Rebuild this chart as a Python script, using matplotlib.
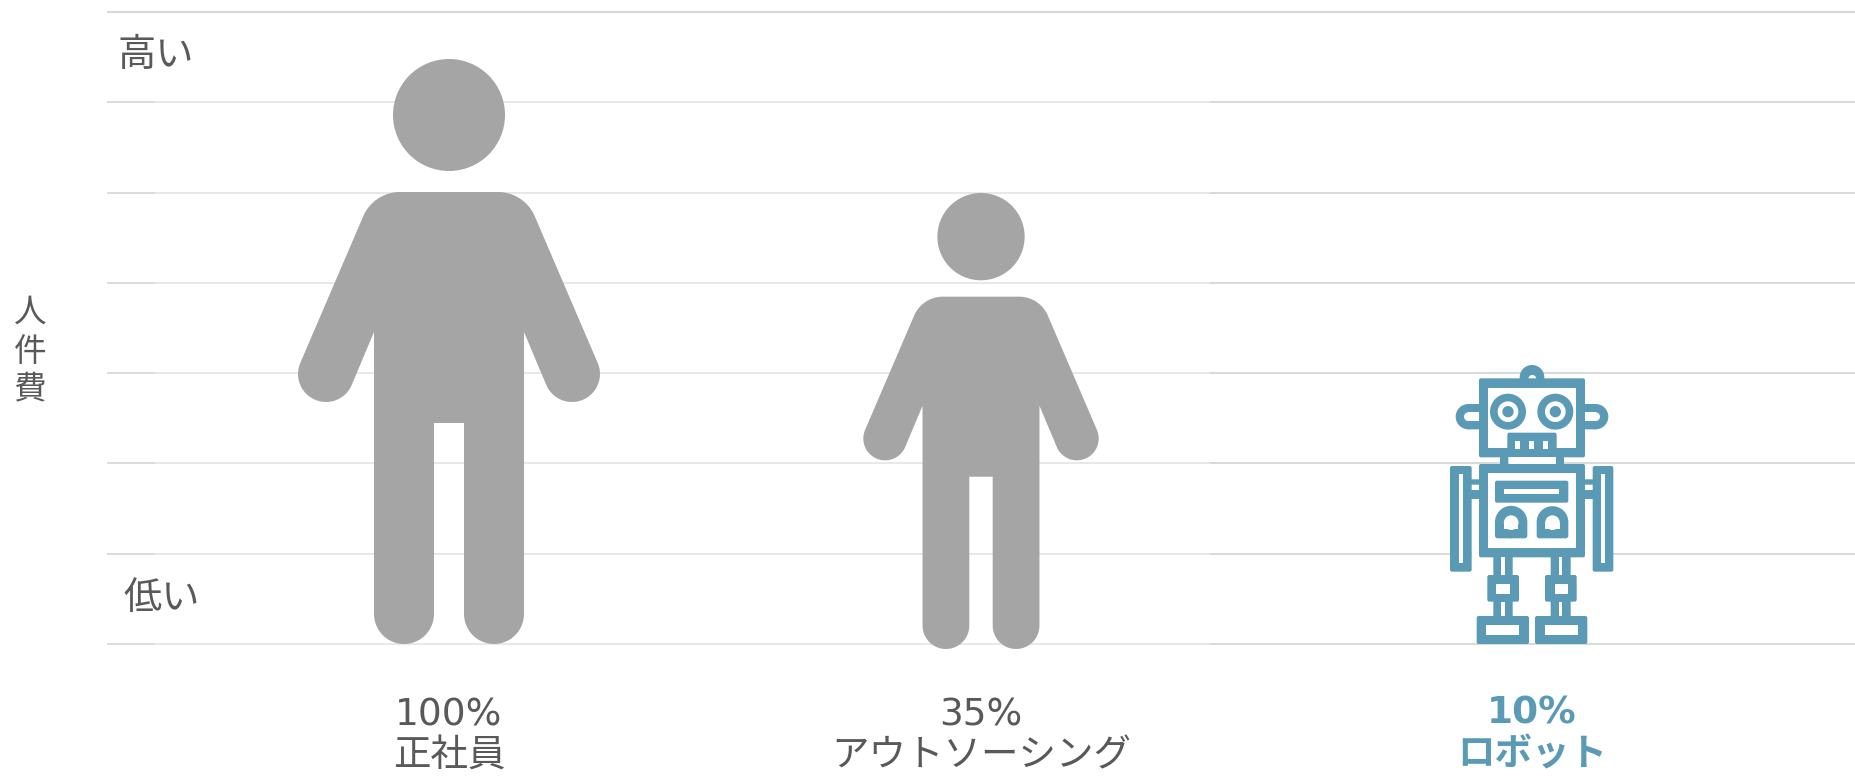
import numpy as np
import matplotlib
matplotlib.use("Agg")
import matplotlib.pyplot as plt
from matplotlib.patches import Circle, Polygon, FancyBboxPatch, Rectangle

# grid levels and labels, in image pixels
grid_y = [12, 102, 193, 283, 373, 463, 554, 644]
categories = ["正社員", "アウトソーシング", "ロボット"]
shares = ["100%", "35%", "10%"]
label_x = [449, 981, 1532]
person_x = [449, 981]
person_bottom = [644, 649]
person_height = [585, 456]

GRAY = "#a5a5a5"
TEAL = "#5b9ab5"
TEXT = "#595959"
CJK = ["DejaVu Sans", "Noto Sans CJK JP"]


def arc(cx, cy, r, a0, a1, n=30):
    a = np.radians(np.linspace(a0, a1, n))
    return np.column_stack([cx + r * np.cos(a), cy + r * np.sin(a)])


def draw_person(ax, cx, bottom, height):
    # outline of the tall figure, scaled down for the shorter one
    s = height / 585
    top = bottom - height
    ax.add_patch(Circle((cx, top + 56 * s), 56 * s, fc=GRAY, ec="none", zorder=3))
    left = np.vstack([
        arc(-49, 173, 40, -90, -156),
        arc(-123, 315, 28, -156, -340),
        [[-75, 273]],
        arc(-45, 555, 30, 180, 0),
        [[-15, 364], [0, 364]],
    ])
    right = left[::-1] * [-1, 1]
    pts = np.vstack([left, right]) * s + [cx, top]
    ax.add_patch(Polygon(pts, closed=True, fc=GRAY, ec="none", zorder=3))


def draw_robot(ax):
    ox, oy, k = 1400, 340, 1 / 3

    def box(x0, y0, x1, y1, color=TEAL, rad=6):
        ax.add_patch(FancyBboxPatch(
            (ox + (x0 + rad) * k, oy + (y0 + rad) * k),
            (x1 - x0 - 2 * rad) * k, (y1 - y0 - 2 * rad) * k,
            boxstyle=f"round,pad={rad * k},rounding_size={rad * k}",
            fc=color, ec="none", zorder=3))

    def gap(x0, y0, x1, y1):
        ax.add_patch(Rectangle((ox + x0 * k, oy + y0 * k), (x1 - x0) * k, (y1 - y0) * k,
                               fc="white", ec="none", zorder=3))

    def hole(x0, y0, x1, y1):
        # keep the strokes a bit heavier than the measured opening
        gap(x0 + 4, y0 + 4, x1 - 4, y1 - 4)

    def circle(x, y, r, color):
        ax.add_patch(Circle((ox + x * k, oy + y * k), r * k, fc=color, ec="none", zorder=3))

    # white gaps next to the arms hide the grid lines
    gap(215, 372, 237, 695)
    gap(555, 372, 578, 695)

    # antenna
    circle(396, 112, 37, TEAL)
    circle(397, 117, 12, "white")
    # ears
    for cx, x0, x1, hx0, hx1 in [(205, 205, 245, 205, 240), (587, 547, 587, 552, 587)]:
        circle(cx, 230, 38, TEAL)
        box(x0, 192, x1, 268, rad=2)
        circle(cx, 230, 13, "white")
        gap(hx0, 217, hx1, 243)
    # head with eyes and mouth
    box(237, 115, 555, 352)
    hole(261, 139, 531, 328)
    for ex in (324, 466):
        circle(ex, 215, 54, TEAL)
        circle(ex, 215, 31, "white")
        circle(ex, 215, 17, TEAL)
    box(322, 278, 470, 340)
    for x0, x1 in [(345, 362), (385, 403), (428, 445)]:
        gap(x0 + 1, 302, x1 - 1, 326)
    # neck
    gap(325, 352, 468, 372)
    for x0, x1 in [(300, 325), (468, 492)]:
        box(x0, 350, x1, 376, rad=1)
    # arms and their links to the body
    for x0, x1, hx0, hx1 in [(150, 215, 175, 190), (578, 640, 603, 616)]:
        box(x0, 378, x1, 695)
        gap(hx0 + 1, 402, hx1 - 1, 668)
    for x0, x1 in [(213, 239), (553, 580)]:
        box(x0, 418, x1, 434, rad=1)
        box(x0, 450, x1, 477, rad=1)
    # body
    box(237, 372, 555, 652)
    hole(261, 396, 531, 628)
    box(285, 422, 505, 488)
    gap(312, 447, 478, 463)
    for x0, x1 in [(285, 382), (410, 505)]:
        mid = (x0 + x1) / 2
        circle(mid, 546, (x1 - x0) / 2, TEAL)
        box(x0, 546, x1, 595, rad=8)
        circle(mid, 548, 22, "white")
        gap(mid - 22, 548, mid + 22, 568)
    # legs, knees and feet
    for lx0, lx1, sx0, sx1, kx0, kx1, khx0, khx1, fx0, fx1, fhx0, fhx1 in [
        (280, 338, 303, 315, 262, 357, 283, 333, 230, 387, 253, 362),
        (452, 512, 476, 488, 435, 530, 460, 507, 405, 562, 430, 538),
    ]:
        box(lx0, 648, lx1, 830, rad=1)
        gap(sx0 + 1, 652, sx1 - 1, 705)
        gap(sx0 + 1, 785, sx1 - 1, 830)
        box(kx0, 705, kx1, 785)
        hole(khx0, 728, khx1, 765)
        box(fx0, 828, fx1, 912)
        hole(fhx0, 852, fhx1, 888)


fig = plt.figure(figsize=(18.56, 7.76), dpi=100, facecolor="white")
ax = fig.add_axes([0, 0, 1, 1])
ax.set_xlim(0, 1856)
ax.set_ylim(776, 0)
ax.axis("off")

# the lines are a little darker at both ends
ax.hlines(grid_y, 155, 1210, color="#e4e4e4", lw=1.2, zorder=1)
ax.hlines(grid_y, 107, 155, color="#d6d6d6", lw=1.2, zorder=1)
ax.hlines(grid_y, 1210, 1856, color="#d6d6d6", lw=1.3, zorder=1)
ax.hlines(grid_y[0], 107, 1856, color="#d9d9d9", lw=1.5, zorder=1)

for x, bottom, height in zip(person_x, person_bottom, person_height):
    draw_person(ax, x, bottom, height)
draw_robot(ax)

ax.text(156, 56, "高い", family=CJK, fontsize=27.5, color=TEXT, ha="center", va="center")
ax.text(162, 599, "低い", family=CJK, fontsize=27.5, color=TEXT, ha="center", va="center")
for y, ch in zip([312, 351, 389], "人件費"):
    ax.text(30, y, ch, family=CJK, fontsize=23.5, color=TEXT, ha="center", va="center")

for i, (x, share, cat) in enumerate(zip(label_x, shares, categories)):
    color = TEAL if i == 2 else TEXT
    weight = "bold" if i == 2 else "normal"
    ax.text(x, 715 if i < 2 else 714, share, family=CJK, fontsize=27, color=color, weight=weight, ha="center", va="center")
    ax.text(x, 756, cat, family=CJK, fontsize=27, color=color, weight=weight, ha="center", va="center")

fig.savefig("out.png", dpi=100)
